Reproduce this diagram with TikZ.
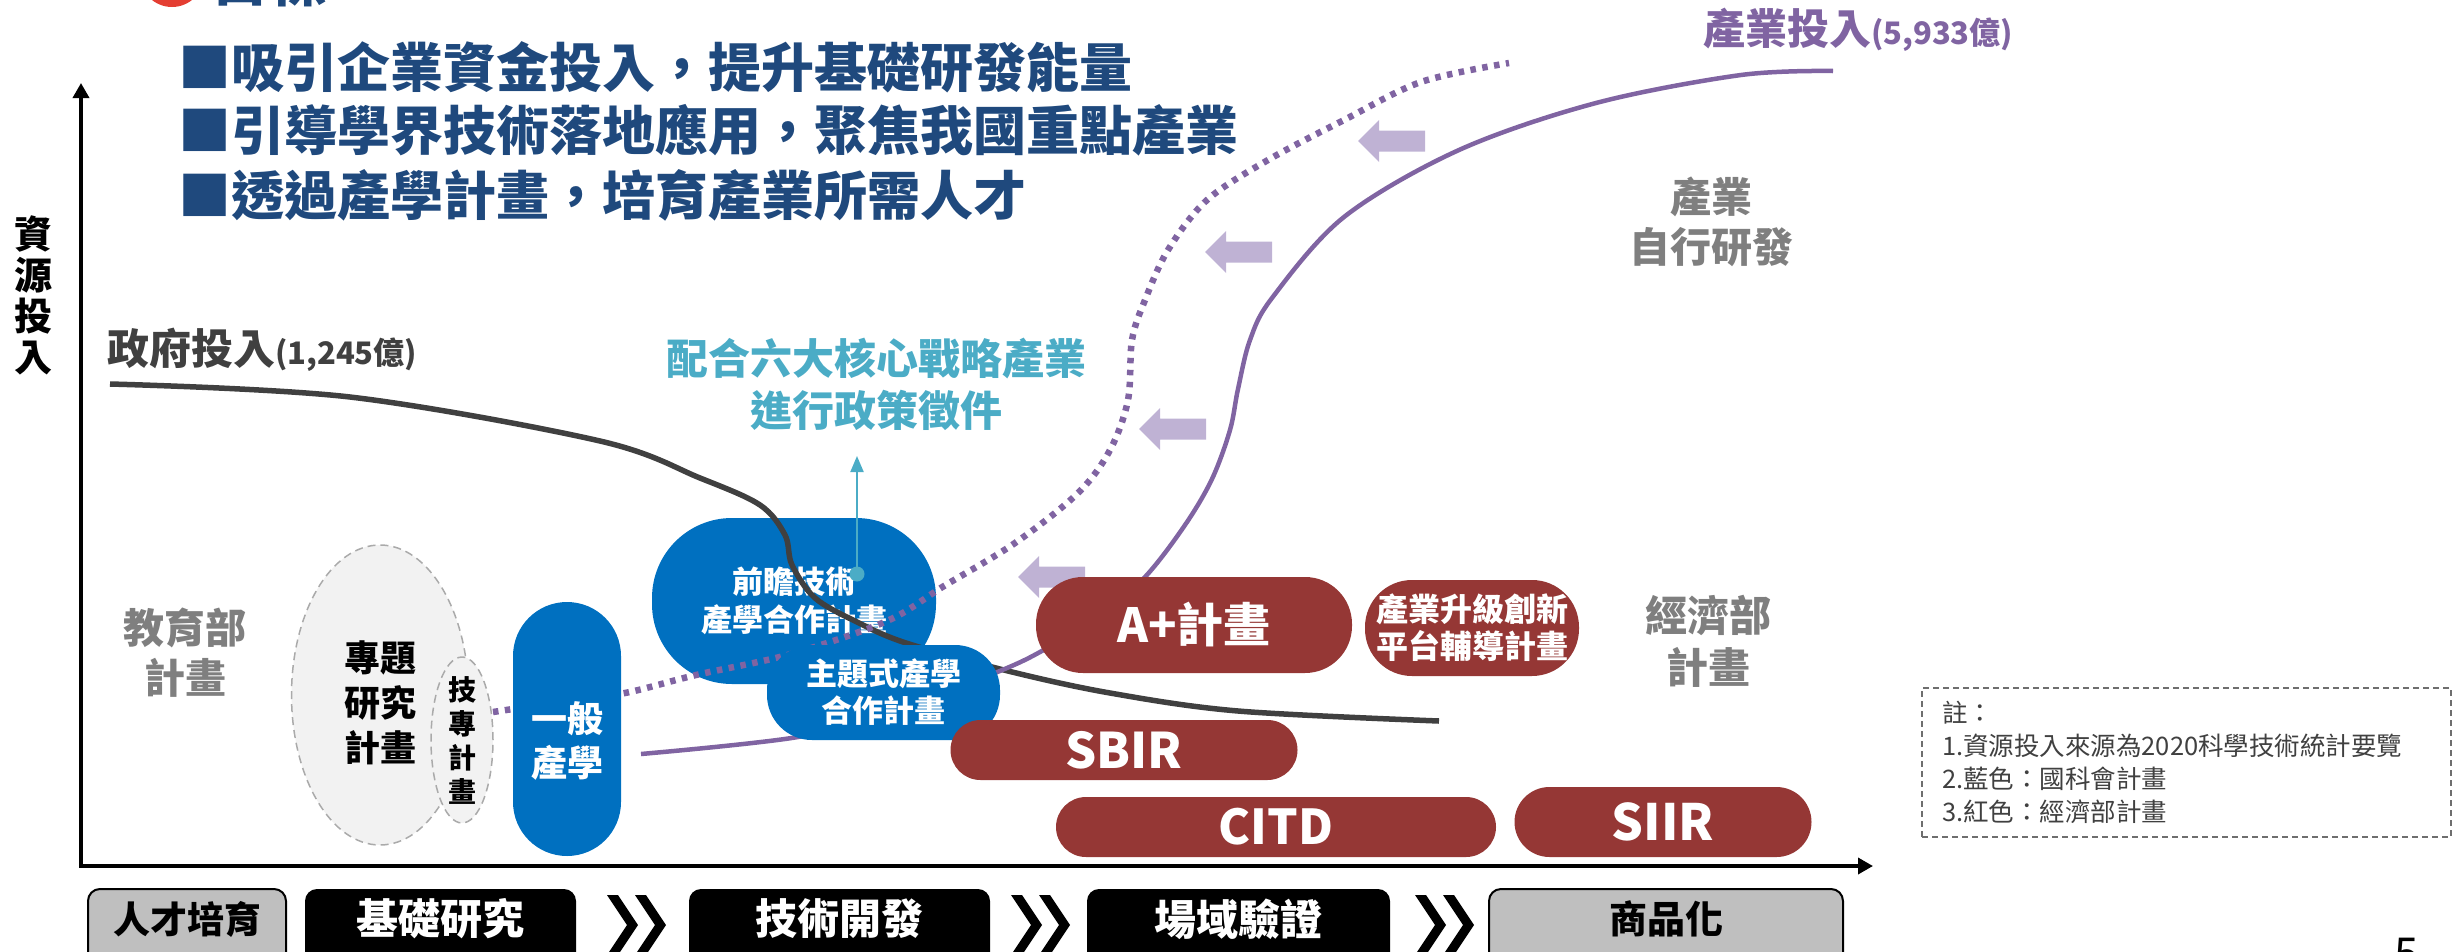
\documentclass[tikz,border=0pt]{standalone}
\usepackage{fontspec}
\setmainfont{Noto Sans CJK TC}
\usetikzlibrary{arrows.meta,shapes.geometric}
\definecolor{navy}{RGB}{31,73,125}
\definecolor{nblue}{RGB}{0,112,192}
\definecolor{dred}{RGB}{149,55,53}
\definecolor{purp}{RGB}{128,100,162}
\definecolor{lav}{RGB}{191,178,212}
\definecolor{tealc}{RGB}{75,172,198}
\definecolor{gtxt}{RGB}{127,127,127}
\definecolor{dgray}{RGB}{64,64,64}
\definecolor{lgray}{RGB}{242,242,242}
\definecolor{ellline}{RGB}{170,170,170}
\definecolor{stagegray}{RGB}{191,191,191}
\definecolor{notegray}{RGB}{110,110,110}
\definecolor{redc}{RGB}{228,62,50}
\newcommand\fsz[2]{\fontsize{#1}{#2}\selectfont}
\begin{document}
\begin{tikzpicture}[x=1pt,y=-1pt,
  every node/.style={inner sep=0pt,outer sep=0pt},
  boxbase/.style={rectangle,text=white,align=center},
  bluebox/.style={boxbase,fill=nblue},
  redbox/.style={boxbase,fill=dred},
  graytext/.style={text=gtxt,align=center},
  ellbox/.style={ellipse,draw=ellline,dash pattern=on 8pt off 5pt,line width=1.5pt,fill=lgray},
  stagebk/.style={rectangle,rounded corners=12pt,fill=black,minimum height=90pt},
  stagegr/.style={rectangle,rounded corners=12pt,fill=stagegray,draw=black,line width=2pt,minimum height=90pt},
  stagetxt/.style={font=\fsz{42}{44}\bfseries},
  govline/.style={line width=5.5pt,draw=dgray},
  indline/.style={line width=4.5pt,draw=purp},
  dotline/.style={line width=6.5pt,draw=purp,dash pattern=on 5.5pt off 6.5pt},
  axisline/.style={line width=3.5pt,draw=black},
  lavarrow/.pic={\fill[lav] (0,0) -- ++(21,-21) -- ++(0,10.5) -- ++(46,0) -- ++(0,21) -- ++(-46,0) -- ++(0,10.5) -- cycle;},
  chev/.pic={\fill[black] (0,0) -- ++(11,0) -- ++(20,30) -- ++(-20,30) -- ++(-11,0) -- ++(20,-30) -- cycle;}
]
\useasboundingbox (0,0) rectangle (2453,951);
\clip (0,0) rectangle (2453,951);

% title (cut off at top)
\fill[redc] (172,-25) circle (32pt);
\node[anchor=base west,text=navy,font=\fsz{58}{60}\bfseries] (goal) at (211,1) {目標};

% bullets
\node[anchor=west,text=navy,font=\fsz{53}{64}\bfseries] (b1) at (178,67) {■吸引企業資金投入，提升基礎研發能量};
\node[anchor=west,text=navy,font=\fsz{53}{64}\bfseries] (b2) at (178,130) {■引導學界技術落地應用，聚焦我國重點產業};
\node[anchor=west,text=navy,font=\fsz{53}{64}\bfseries] (b3) at (178,195) {■透過產學計畫，培育產業所需人才};

% axes
\node[font=\fsz{38}{41}\bfseries,align=center] (ylab) at (33,295) {資\\源\\投\\入};
\coordinate (O) at (81,866);
\coordinate (Ytop) at (81,83);
\coordinate (Xend) at (1873,866);
\draw[axisline,{Triangle[width=16pt,length=15pt]}-{Triangle[width=16pt,length=15pt]}] (Ytop) -- (O) -- (Xend);

% curve labels
\node[anchor=base west,text=dgray,font=\fsz{42}{50}\bfseries] (govlab) at (107,364) {政府投入{\fsz{31}{34}(1,245億)}};
\node[anchor=base west,text=purp,font=\fsz{42}{50}\bfseries] (indlab) at (1703,44) {產業投入{\fsz{31}{34}(5,933億)}};

% education programs
\node[graytext,font=\fsz{41}{50}\bfseries] (moe) at (185,653) {教育部\\計畫};
\node[ellbox,minimum width=177pt,minimum height=300pt] (ztyj) at (380,695) {};
\node[font=\fsz{36}{45}\bfseries,align=center] (ztyjt) at (380,703) {專題\\研究\\計畫};
\node[ellbox,minimum width=62pt,minimum height=166pt] (jz) at (462,740) {};
\node[font=\fsz{28}{34}\bfseries,align=center] (jzt) at (462,740) {技\\專\\計\\畫};

% forward-looking box
\node[bluebox,rounded corners=80pt,minimum width=284pt,minimum height=166pt,font=\fsz{31}{38}\bfseries] (qz) at (794,601) {前瞻技術\\產學合作計畫};

% curves
\draw[govline] plot[smooth,tension=0.55] coordinates {(110,384) (350,397) (600,441) (700,478) (760,505) (785,535) (792,565) (815,598) (855,621) (906,643) (1008,671) (1110,693) (1238,711) (1439,721)};
\draw[dotline] plot[smooth,tension=0.55] coordinates {(493,712) (560,702) (625,693) (696,675) (791,654) (887,621) (944,586) (1015,543) (1078,493) (1110,450) (1128,400) (1132,340) (1145,300) (1168,250) (1207,200) (1268,160) (1344,120) (1421,82) (1509,63)};
\draw[indline] plot[smooth,tension=0.55] coordinates {(641,754) (798,737) (900,710) (995,673) (1040,652) (1100,615) (1145,577) (1185,525) (1212,479) (1230,430) (1238,389) (1250,340) (1272,298) (1344,217) (1459,150) (1596,103) (1741,75) (1833,71)};

% lavender arrows
\pic at (1358,141) {lavarrow};
\pic at (1205,252) {lavarrow};
\pic at (1139,429) {lavarrow};
\pic at (1018,577) {lavarrow};

% NSTC programs
\node[bluebox,rounded corners=54pt,minimum width=108pt,minimum height=254pt] (yb) at (567,729) {};
\node[font=\fsz{36}{44}\bfseries,text=white,align=center] (ybt) at (567,741) {一般\\產學};
\node[bluebox,rounded corners=45pt,minimum width=233pt,minimum height=95pt,font=\fsz{31}{37}\bfseries] (zt) at (883.5,692.5) {主題式產學\\合作計畫};

% MOEA programs
\node[redbox,rounded corners=47pt,minimum width=316pt,minimum height=96pt,font=\fsz{47}{56}\bfseries] (ap) at (1194,625) {A+計畫};
\node[redbox,rounded corners=47pt,minimum width=214pt,minimum height=96pt,font=\fsz{32}{37}\bfseries] (cy) at (1472,628) {產業升級創新\\平台輔導計畫};
\node[redbox,rounded corners=30pt,minimum width=347pt,minimum height=60pt,font=\fsz{49}{56}\bfseries] (sbir) at (1124,750) {SBIR};
\node[redbox,rounded corners=30pt,minimum width=440pt,minimum height=60pt,font=\fsz{48}{56}\bfseries] (citd) at (1276,827) {CITD};
\node[redbox,rounded corners=35pt,minimum width=297pt,minimum height=70pt,font=\fsz{50}{56}\bfseries] (siir) at (1663,822) {SIIR};

% policy call
\node[circle,fill=tealc,minimum size=15pt] (tdot) at (857,574) {};
\node[text=tealc,font=\fsz{42}{52}\bfseries,align=center] (policy) at (876,384) {配合六大核心戰略產業\\進行政策徵件};
\coordinate (ttip) at (857,456);
\draw[tealc,line width=2pt,-{Triangle[width=13pt,length=16pt]}] (tdot) -- (ttip);

% other gray labels
\node[graytext,font=\fsz{41}{50}\bfseries] (selfrd) at (1711,222) {產業\\自行研發};
\node[graytext,font=\fsz{42}{52}\bfseries] (moea) at (1708,641) {經濟部\\計畫};

% note
\node[draw=notegray,dash pattern=on 6pt off 4pt,line width=1.5pt,minimum width=529pt,minimum height=149pt] (notebox) at (2186.5,762.5) {};
\node[anchor=west,align=left,text=dgray,font=\fsz{25.5}{33}] (notetxt) at (1942,762) {註：\\1.資源投入來源為2020科學技術統計要覽\\2.藍色：國科會計畫\\3.紅色：經濟部計畫};

% stage bar
\node[stagegr,minimum width=198pt] (s1) at (187,934) {};
\node[font=\fsz{37}{40}\bfseries] (s1t) at (187,919) {人才培育};
\node[stagebk,minimum width=271pt] (s2) at (440.5,934) {};
\node[stagetxt,text=white] (s2t) at (440.5,919) {基礎研究};
\node[stagebk,minimum width=301pt] (s3) at (839.5,934) {};
\node[stagetxt,text=white] (s3t) at (839.5,919) {技術開發};
\node[stagebk,minimum width=303pt] (s4) at (1238.5,934) {};
\node[stagetxt,text=white] (s4t) at (1238.5,919) {場域驗證};
\node[stagegr,minimum width=354pt] (s5) at (1666,934) {};
\node[font=\fsz{38}{40}\bfseries] (s5t) at (1666,919) {商品化};
\pic at (607,895) {chev};
\pic at (635,895) {chev};
\pic at (1011,895) {chev};
\pic at (1039,895) {chev};
\pic at (1415,895) {chev};
\pic at (1443,895) {chev};

% page number (cut off)
\node[anchor=north west,font=\fsz{44}{48}] (pgno) at (2394,938) {5};
\end{tikzpicture}
\end{document}
